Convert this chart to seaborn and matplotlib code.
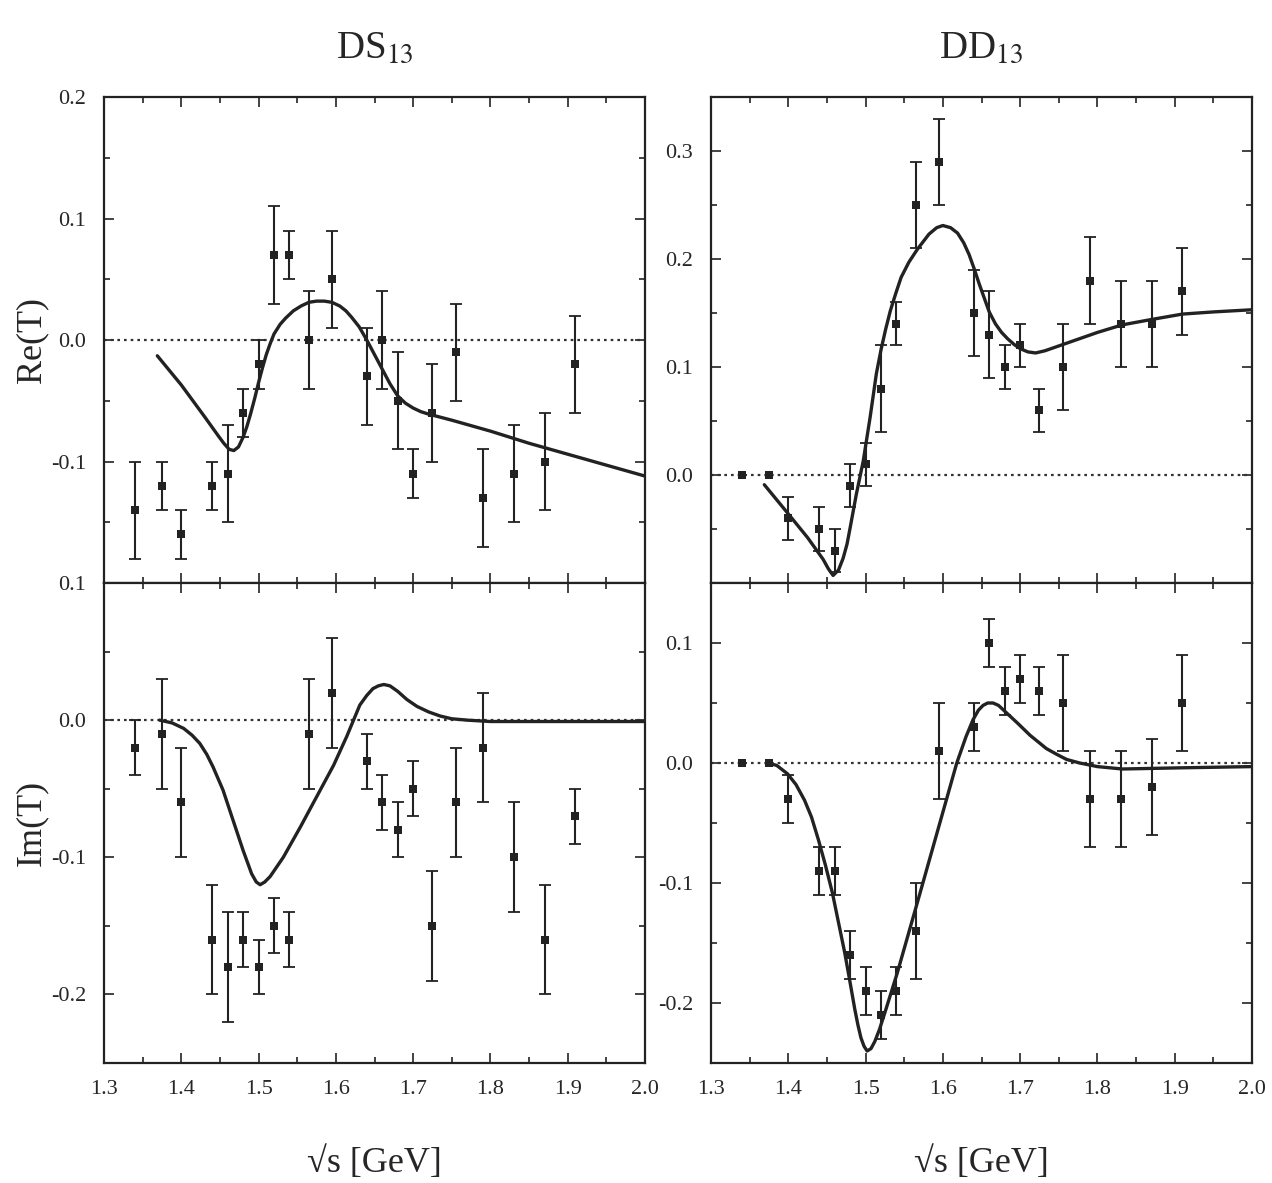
import matplotlib
matplotlib.use("Agg")
import matplotlib.pyplot as plt
from matplotlib.ticker import MultipleLocator, FixedLocator
import numpy as np
import pandas as pd
import seaborn as sns

# measured points (same energies for both partial waves)
energy = [1.34, 1.375, 1.40, 1.44, 1.46, 1.48, 1.50, 1.52, 1.54, 1.565, 1.595,
          1.64, 1.66, 1.68, 1.70, 1.725, 1.755, 1.79, 1.83, 1.87, 1.91]

ds_re = [-0.14, -0.12, -0.16, -0.12, -0.11, -0.06, -0.02, 0.07, 0.07, 0.0, 0.05,
         -0.03, 0.0, -0.05, -0.11, -0.06, -0.01, -0.13, -0.11, -0.10, -0.02]
ds_re_err = [0.04, 0.02, 0.02, 0.02, 0.04, 0.02, 0.02, 0.04, 0.02, 0.04, 0.04,
             0.04, 0.04, 0.04, 0.02, 0.04, 0.04, 0.04, 0.04, 0.04, 0.04]

ds_im = [-0.02, -0.01, -0.06, -0.16, -0.18, -0.16, -0.18, -0.15, -0.16, -0.01, 0.02,
         -0.03, -0.06, -0.08, -0.05, -0.15, -0.06, -0.02, -0.10, -0.16, -0.07]
ds_im_err = [0.02, 0.04, 0.04, 0.04, 0.04, 0.02, 0.02, 0.02, 0.02, 0.04, 0.04,
             0.02, 0.02, 0.02, 0.02, 0.04, 0.04, 0.04, 0.04, 0.04, 0.02]

dd_re = [0.0, 0.0, -0.04, -0.05, -0.07, -0.01, 0.01, 0.08, 0.14, 0.25, 0.29,
         0.15, 0.13, 0.10, 0.12, 0.06, 0.10, 0.18, 0.14, 0.14, 0.17]
dd_re_err = [0, 0, 0.02, 0.02, 0.02, 0.02, 0.02, 0.04, 0.02, 0.04, 0.04,
             0.04, 0.04, 0.02, 0.02, 0.02, 0.04, 0.04, 0.04, 0.04, 0.04]

dd_im = [0.0, 0.0, -0.03, -0.09, -0.09, -0.16, -0.19, -0.21, -0.19, -0.14, 0.01,
         0.03, 0.10, 0.06, 0.07, 0.06, 0.05, -0.03, -0.03, -0.02, 0.05]
dd_im_err = [0, 0, 0.02, 0.02, 0.02, 0.02, 0.02, 0.02, 0.02, 0.04, 0.04,
             0.02, 0.02, 0.02, 0.02, 0.02, 0.04, 0.04, 0.04, 0.04, 0.04]

# model curves
ds_re_fit_x = [1.369, 1.40, 1.43, 1.448, 1.455, 1.462, 1.468, 1.474, 1.48, 1.485, 1.49,
               1.495, 1.50, 1.505, 1.51, 1.515, 1.52, 1.528, 1.535, 1.545, 1.555, 1.565,
               1.575, 1.585, 1.595, 1.605, 1.613, 1.62, 1.63, 1.64, 1.65, 1.66, 1.67,
               1.68, 1.69, 1.70, 1.71, 1.72, 1.75, 1.80, 1.85, 1.90, 1.95, 2.00]
ds_re_fit_y = [-0.013, -0.037, -0.063, -0.079, -0.085, -0.090, -0.091, -0.088, -0.080,
               -0.071, -0.060, -0.048, -0.035, -0.023, -0.012, -0.003, 0.005, 0.013,
               0.018, 0.024, 0.028, 0.031, 0.032, 0.032, 0.031, 0.028, 0.024, 0.019,
               0.011, 0.0, -0.012, -0.024, -0.036, -0.046, -0.052, -0.056, -0.059,
               -0.061, -0.066, -0.075, -0.085, -0.094, -0.103, -0.112]

ds_im_fit_x = [1.372, 1.388, 1.403, 1.414, 1.424, 1.433, 1.441, 1.454, 1.467, 1.480,
               1.491, 1.497, 1.502, 1.508, 1.515, 1.532, 1.554, 1.575, 1.597, 1.614,
               1.631, 1.640, 1.648, 1.655, 1.662, 1.670, 1.680, 1.692, 1.705, 1.72,
               1.735, 1.75, 1.77, 1.80, 1.90, 2.00]
ds_im_fit_y = [0.0, -0.002, -0.006, -0.011, -0.017, -0.025, -0.034, -0.051, -0.073,
               -0.095, -0.112, -0.118, -0.120, -0.118, -0.114, -0.100, -0.078, -0.056,
               -0.033, -0.012, 0.011, 0.018, 0.023, 0.025, 0.026, 0.025, 0.021, 0.015,
               0.010, 0.006, 0.003, 0.001, 0.0, -0.001, -0.001, -0.001]

dd_re_fit_x = [1.369, 1.400, 1.425, 1.445, 1.452, 1.458, 1.465, 1.471, 1.476, 1.480,
               1.488, 1.497, 1.506, 1.514, 1.520, 1.526, 1.532, 1.539, 1.546, 1.556,
               1.567, 1.582, 1.592, 1.600, 1.610, 1.619, 1.627, 1.634, 1.641, 1.647,
               1.654, 1.660, 1.668, 1.676, 1.684, 1.692, 1.700, 1.710, 1.720, 1.732,
               1.744, 1.76, 1.78, 1.80, 1.832, 1.87, 1.91, 1.95, 2.00]
dd_re_fit_y = [-0.009, -0.036, -0.058, -0.078, -0.087, -0.093, -0.088, -0.077, -0.064,
               -0.049, -0.018, 0.013, 0.054, 0.094, 0.116, 0.135, 0.152, 0.168, 0.183,
               0.197, 0.209, 0.223, 0.229, 0.231, 0.229, 0.224, 0.215, 0.204, 0.190,
               0.177, 0.163, 0.151, 0.140, 0.132, 0.126, 0.121, 0.117, 0.114, 0.113,
               0.115, 0.118, 0.122, 0.127, 0.132, 0.139, 0.144, 0.149, 0.151, 0.153]

dd_im_fit_x = [1.373, 1.385, 1.399, 1.41, 1.421, 1.43, 1.439, 1.448, 1.457, 1.465,
               1.473, 1.48, 1.486, 1.49, 1.494, 1.498, 1.502, 1.507, 1.512, 1.518,
               1.525, 1.541, 1.568, 1.593, 1.618, 1.630, 1.639, 1.646, 1.652, 1.658,
               1.665, 1.672, 1.682, 1.697, 1.713, 1.734, 1.748, 1.760, 1.777, 1.80,
               1.832, 1.91, 2.00]
dd_im_fit_y = [0.0, -0.002, -0.009, -0.018, -0.031, -0.045, -0.064, -0.085, -0.108,
               -0.133, -0.158, -0.183, -0.205, -0.218, -0.229, -0.236, -0.240, -0.238,
               -0.232, -0.222, -0.208, -0.175, -0.114, -0.057, 0.0, 0.022, 0.036, 0.044,
               0.048, 0.050, 0.050, 0.048, 0.042, 0.033, 0.023, 0.012, 0.007, 0.003,
               0.0, -0.003, -0.005, -0.004, -0.003]

sns.set_style("ticks")
plt.rcParams["font.family"] = ["Liberation Serif", "DejaVu Serif"]
plt.rcParams["axes.unicode_minus"] = False
plt.rcParams["mathtext.fontset"] = "stix"

fig = plt.figure(figsize=(12.72, 11.83), dpi=100)
W, H = 1272.0, 1183.0
col_left = [104 / W, 711 / W]
ax_w = 541 / W
top_b, top_h = 1 - 583 / H, 486 / H
bot_b, bot_h = 1 - 1063 / H, 480 / H

panels = [
    # col, row, data, err, fit_x, fit_y, ylim, yticks
    (0, 0, ds_re, ds_re_err, ds_re_fit_x, ds_re_fit_y, (-0.2, 0.2), [-0.1, 0.0, 0.1, 0.2]),
    (0, 1, ds_im, ds_im_err, ds_im_fit_x, ds_im_fit_y, (-0.25, 0.1), [-0.2, -0.1, 0.0, 0.1]),
    (1, 0, dd_re, dd_re_err, dd_re_fit_x, dd_re_fit_y, (-0.1, 0.35), [0.0, 0.1, 0.2, 0.3]),
    (1, 1, dd_im, dd_im_err, dd_im_fit_x, dd_im_fit_y, (-0.25, 0.15), [-0.2, -0.1, 0.0, 0.1]),
]

for col, row, vals, errs, fx, fy, ylim, yticks in panels:
    if row == 0:
        ax = fig.add_axes([col_left[col], top_b, ax_w, top_h])
    else:
        ax = fig.add_axes([col_left[col], bot_b, ax_w, bot_h])

    ax.axhline(0.0, color="#333333", lw=1.6, ls=(0, (1.2, 1.8)), zorder=1)

    errs_plot = [e if e > 0 else np.nan for e in errs]
    ax.errorbar(energy, vals, yerr=errs_plot, fmt="none", ecolor="#222222",
                elinewidth=1.5, capsize=4, capthick=1.3, zorder=2)
    pts = pd.DataFrame({"E": energy, "T": vals})
    sns.scatterplot(data=pts, x="E", y="T", marker="s", s=30, color="#222222",
                    edgecolor="#222222", linewidth=0, ax=ax, zorder=3)

    fit = pd.DataFrame({"E": fx, "T": fy})
    sns.lineplot(data=fit, x="E", y="T", sort=False, color="#222222", lw=2.4,
                 ax=ax, zorder=4)

    ax.set_xlim(1.3, 2.0)
    ax.set_ylim(*ylim)
    ax.xaxis.set_major_locator(MultipleLocator(0.1))
    ax.xaxis.set_minor_locator(MultipleLocator(0.05))
    ax.yaxis.set_major_locator(FixedLocator(yticks))
    ax.yaxis.set_minor_locator(MultipleLocator(0.05))
    ax.set_yticklabels([f"{t:.1f}" for t in yticks])
    ax.tick_params(which="both", direction="in", top=True, right=True,
                   labelsize=16, width=1.2, color="#222222")
    ax.tick_params(which="major", length=7)
    ax.tick_params(which="minor", length=4)
    ax.tick_params(axis="y", pad=13)
    ax.tick_params(axis="x", pad=12)
    for sp in ax.spines.values():
        sp.set_linewidth(1.6)
        sp.set_color("#222222")

    ax.set_xlabel("")
    ax.set_ylabel("")
    if row == 0:
        ax.set_xticklabels([])
        ax.set_title(["DS$_{13}$", "DD$_{13}$"][col], fontsize=28, pad=28)
    else:
        ax.set_xticks([1.3, 1.4, 1.5, 1.6, 1.7, 1.8, 1.9, 2.0])
        ax.set_xticklabels(["1.3", "1.4", "1.5", "1.6", "1.7", "1.8", "1.9", "2.0"])
        ax.set_xlabel("\u221As [GeV]", fontsize=26, labelpad=34)
    if col == 0:
        ax.set_ylabel(["Re(T)", "Im(T)"][row], fontsize=26, labelpad=2)

fig.savefig("out.png", dpi=100, facecolor="white")
